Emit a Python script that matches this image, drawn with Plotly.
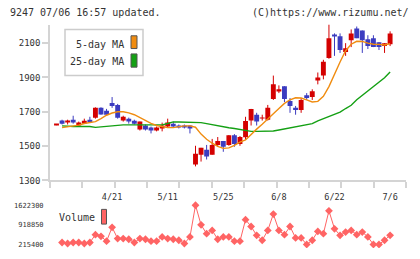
import plotly.graph_objects as go
import numpy as np

# ---------------- data ----------------
days = list(range(61))
opens = [1622,1649,1641,1654,1620,1637,1654,1666,1723,1706,1751,1740,1649,1660,1648,1597,1620,1608,1591,1603,
         1614,1631,1620,1620,1620,1393,1450,1479,1450,1507,1530,1507,1564,1513,1551,1649,1683,1663,1654,1774,
         1820,1849,1763,1723,1711,1797,1786,1883,1911,2014,2151,2140,2049,2117,2186,2174,2123,2129,2106,2083,2094]
closes = [1627,1631,1645,1637,1637,1648,1643,1723,1685,1683,1734,1666,1671,1643,1631,1643,1597,1591,1608,1620,
          1637,1614,1608,1608,1603,1456,1490,1439,1507,1530,1496,1564,1513,1553,1647,1717,1643,1666,1723,1860,
          1831,1774,1734,1711,1769,1780,1820,1900,1991,2129,2140,2060,2071,2157,2129,2117,2083,2077,2077,2100,2157]
highs = [1627,1654,1654,1677,1643,1660,1671,1726,1726,1717,1786,1746,1677,1666,1654,1643,1626,1614,1614,1637,
         1660,1643,1626,1626,1620,1502,1490,1507,1542,1553,1530,1564,1570,1559,1671,1717,1694,1683,1740,1911,
         1854,1849,1780,1734,1780,1809,1831,1929,2003,2209,2157,2157,2100,2180,2197,2174,2146,2146,2106,2100,2169]
lows = [1622,1626,1626,1631,1614,1631,1637,1660,1683,1677,1723,1660,1643,1631,1626,1591,1591,1574,1586,1586,
        1608,1608,1603,1603,1574,1382,1410,1422,1450,1496,1467,1502,1496,1502,1538,1620,1620,1649,1649,1769,
        1809,1757,1694,1683,1694,1769,1769,1860,1889,2009,2026,2043,2026,2077,2129,2043,2066,2077,2060,2043,2083]

ma_days = list(range(1, 61))
ma5 = [1608,1612,1618,1622,1632,1637,1643,1660,1680,1693,1700,1700,1694,1683,1666,1650,1632,1620,1612,1608,
       1608,1614,1618,1618,1610,1570,1540,1517,1498,1487,1490,1504,1523,1536,1570,1599,1627,1656,1685,1719,
       1749,1770,1782,1780,1769,1757,1761,1790,1847,1923,1990,2056,2094,2111,2110,2100,2094,2093,2089,2097]
ma25 = [1618,1614,1614,1614,1614,1614,1609,1612,1614,1620,1624,1624,1624,1624,1624,1624,1624,1624,1624,1632,
        1641,1641,1641,1641,1641,1637,1631,1624,1618,1610,1607,1603,1597,1592,1586,1586,1586,1586,1588,1594,
        1600,1607,1612,1616,1624,1631,1647,1660,1673,1683,1698,1719,1738,1770,1795,1818,1843,1871,1898,1932]

vol_days = list(range(1, 61))
volume = [285750,250575,285750,285750,250575,285750,567150,508525,332650,830000,
          426450,426450,403000,285750,426450,403000,332650,332650,485075,426450,
          403000,367825,250575,485075,1622300,918900,602325,719575,403000,485075,
          485075,332650,332650,1106500,860275,543700,367825,719575,1305825,719575,
          567150,860275,449900,449900,215400,367825,684400,602325,1423075,778200,
          543700,660950,719575,567150,660950,485075,215400,215400,367825,543700]

date_ticks = [10, 20, 30, 40, 50, 60]
date_labels = ["4/21", "5/11", "5/25", "6/8", "6/22", "7/6"]
price_ticks = [1300, 1500, 1700, 1900, 2100]
vol_ticks = [215400, 918850, 1622300]
vol_labels = ["215400", "918850", "1622300"]

# ---------------- style ----------------
W, H = 420, 259
RED = "#d40000"
BLUE = "#3c3cc0"
ORANGE = "#f08c10"
GREEN = "#14a014"
VOLC = "#ff6464"
AXC = "#d4d4d4"
TXT = "#333333"
MONO = "DejaVu Sans Mono"

def px_x(p):
    return p / W

def px_y(p):
    return 1 - p / H

XR = [-1.17, 62.86]
YR = [1300, 2208.6]
VR = [85262, 1773542]

fig = go.Figure()

# candle bodies (bars) and wicks (line segments), split by direction
for up, color in ((True, RED), (False, BLUE)):
    idx = [i for i in days if (closes[i] >= opens[i]) == up]
    fig.add_trace(go.Bar(
        x=[days[i] for i in idx],
        y=[abs(closes[i] - opens[i]) for i in idx],
        base=[min(opens[i], closes[i]) for i in idx],
        width=0.88, marker=dict(color=color, line=dict(width=0)),
        showlegend=False, hoverinfo="skip", xaxis="x", yaxis="y"))
    wx, wy = [], []
    for i in idx:
        wx += [days[i], days[i], None]
        wy += [lows[i], highs[i], None]
    fig.add_trace(go.Scatter(x=wx, y=wy, mode="lines", line=dict(color=color, width=1),
                             showlegend=False, hoverinfo="skip", xaxis="x", yaxis="y"))

fig.add_trace(go.Scatter(x=ma_days, y=ma25, mode="lines", line=dict(color=GREEN, width=1.4),
                         showlegend=False, hoverinfo="skip", xaxis="x", yaxis="y"))
fig.add_trace(go.Scatter(x=ma_days, y=ma5, mode="lines", line=dict(color=ORANGE, width=1.4),
                         showlegend=False, hoverinfo="skip", xaxis="x", yaxis="y"))
fig.add_trace(go.Scatter(x=vol_days, y=volume, mode="lines+markers",
                         line=dict(color=VOLC, width=1),
                         marker=dict(symbol="diamond", size=6, color=VOLC),
                         showlegend=False, hoverinfo="skip", xaxis="x", yaxis="y2"))
# carrier for the tick-mark axis
fig.add_trace(go.Scatter(x=[], y=[], xaxis="x3", yaxis="y", showlegend=False))

xdom = [px_x(50), px_x(406)]
fig.update_layout(
    width=W, height=H, autosize=False,
    margin=dict(l=0, r=0, t=0, b=0),
    paper_bgcolor="white", plot_bgcolor="white",
    showlegend=False, barmode="overlay",
    font=dict(family=MONO, color=TXT, size=10),
    xaxis=dict(domain=xdom, range=XR, anchor="y",
               tickvals=date_ticks, ticktext=date_labels,
               ticks="outside", ticklen=8, tickcolor="rgba(0,0,0,0)",
               tickfont=dict(size=8.5, family=MONO, color=TXT),
               showline=False, showgrid=False, zeroline=False, fixedrange=True),
    xaxis3=dict(domain=xdom, range=XR, overlaying="x", anchor="y", side="bottom",
                tickvals=list(np.linspace(XR[0], XR[1], 12)), showticklabels=False,
                ticks="outside", ticklen=6, tickcolor=AXC, tickwidth=1.5,
                showline=True, linecolor=AXC, linewidth=1.5,
                showgrid=False, zeroline=False),
    yaxis=dict(domain=[px_y(184), px_y(25)], range=YR, anchor="x",
               tickvals=price_ticks, ticks="outside", ticklen=6, tickcolor=AXC, tickwidth=1.5,
               showline=True, linecolor=AXC, linewidth=1.5,
               tickfont=dict(size=9, family=MONO, color=TXT),
               showgrid=False, zeroline=False),
    yaxis2=dict(domain=[px_y(253), px_y(205)], range=VR, anchor="x",
                tickvals=vol_ticks, ticktext=vol_labels,
                ticks="outside", ticklen=4, tickcolor="rgba(0,0,0,0)",
                tickfont=dict(size=7, family=MONO, color=TXT),
                showline=False, showgrid=False, zeroline=False),
)

shapes = [
    # MA legend box
    dict(type="rect", xref="paper", yref="paper",
         x0=px_x(65), x1=px_x(143), y0=px_y(77), y1=px_y(30),
         line=dict(color="#cccccc", width=1.5), fillcolor="white"),
    dict(type="rect", xref="paper", yref="paper",
         x0=px_x(131), x1=px_x(137), y0=px_y(49.5), y1=px_y(36.5),
         line=dict(color="#555555", width=1), fillcolor=ORANGE),
    dict(type="rect", xref="paper", yref="paper",
         x0=px_x(131), x1=px_x(137), y0=px_y(68.5), y1=px_y(55),
         line=dict(color="#555555", width=1), fillcolor=GREEN),
    # volume legend swatch
    dict(type="rect", xref="paper", yref="paper",
         x0=px_x(101.5), x1=px_x(106.5), y0=px_y(228.5), y1=px_y(213.5),
         line=dict(color="#555555", width=1), fillcolor=VOLC),
]
annotations = [
    dict(text="9247 07/06 16:57 updated.", xref="paper", yref="paper",
         x=px_x(8), y=px_y(12.5), xanchor="left", yanchor="middle", showarrow=False,
         font=dict(size=10, family=MONO, color=TXT)),
    dict(text="(C)https://www.rizumu.net/", xref="paper", yref="paper",
         x=px_x(411), y=px_y(12.5), xanchor="right", yanchor="middle", showarrow=False,
         font=dict(size=10, family=MONO, color=TXT)),
    dict(text="5-day MA", xref="paper", yref="paper",
         x=px_x(126), y=px_y(45), xanchor="right", yanchor="middle", showarrow=False,
         font=dict(size=10, family=MONO, color=TXT)),
    dict(text="25-day MA", xref="paper", yref="paper",
         x=px_x(126), y=px_y(63), xanchor="right", yanchor="middle", showarrow=False,
         font=dict(size=10, family=MONO, color=TXT)),
    dict(text="Volume", xref="paper", yref="paper",
         x=px_x(57), y=px_y(222), xanchor="left", yanchor="middle", showarrow=False,
         font=dict(size=10, family=MONO, color=TXT)),
]
fig.update_layout(shapes=shapes, annotations=annotations)

fig.write_html("out.html")
